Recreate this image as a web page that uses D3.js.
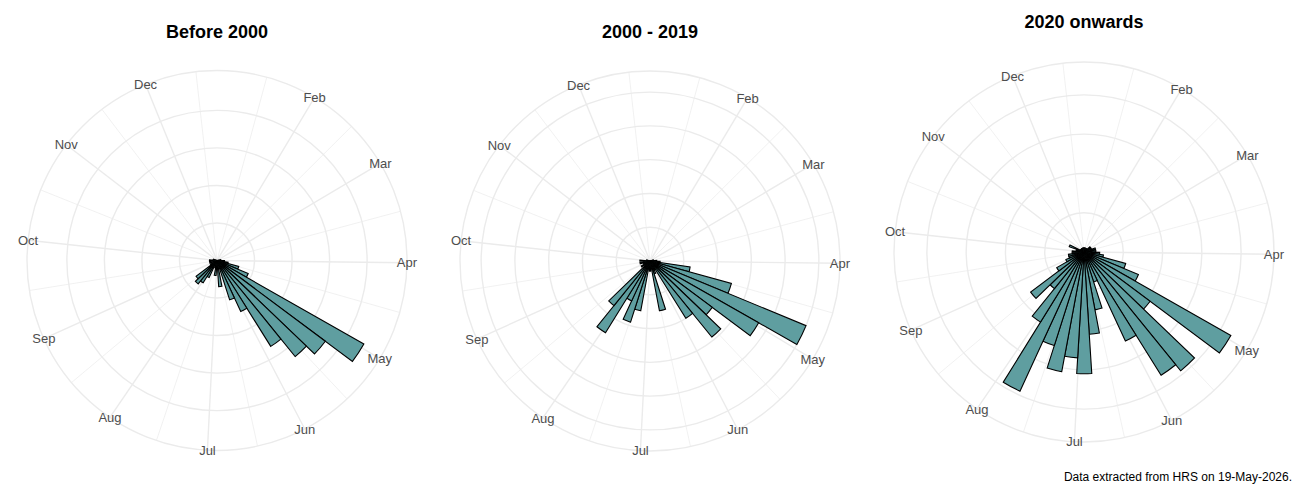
<!DOCTYPE html>
<html>
<head>
<meta charset="utf-8">
<script src="https://cdn.jsdelivr.net/npm/d3@7/dist/d3.min.js"></script>
<style>
  body { margin: 0; background: #ffffff; }
  text { font-family: Arial, "Liberation Sans", sans-serif; }
</style>
</head>
<body>
<svg id="chart" width="1300" height="500"></svg>
<script>
// Panel titles
var panelTitles = ["Before 2000", "2000 - 2019", "2020 onwards"];

// Weekly counts (51 bins of 7 days, starting at the turn of the year)
var countsBefore2000 = [0,0,0,0,0,0,0,0,0,0,0,
  1,1,2,3,6,9,45,36,33,27,15,11,2,7,2,4,2,1,5,7,8,7,2,1,2,1,2,2,1,1,
  0,0,0,0,0,0,0,0,0,0];
var counts2000to2019 = [0,0,0,0,0,0,0,0,0,0,
  1,1,2,3,12,25,50,37,23,29,20,3,4,15,2,3,2,15,19,13,25,17,2,3,2,2,3,2,3,1,1,
  0,0,0,0,0,0,0,0,0,0];
var counts2020on = [1,1,1,1,1,1,1,2,2,2,3,3,3,4,5,11,15,43,21,39,37,25,8,15,21,31,27,31,25,39,21,12,17,8,5,4,4,3,3,2,2,4,1,1,1,1,1,1,1,1,1];

var captionText = "Data extracted from HRS on 19-May-2026.";

var panelCounts = [countsBefore2000, counts2000to2019, counts2020on];

// theta axis: dates within one (non leap) year
var binDays = 7;
var dayMs = 24 * 3600 * 1000;
var firstBinStart = new Date(Date.UTC(2020, 11, 31, 12, 54));
var axisStart = new Date(Date.UTC(2021, 0, 1, 12, 0));
var axisEnd = new Date(axisStart.getTime() + 355.3 * dayMs);

// layout of the three polar panels
var centerX = [217, 650, 1084];
var centerY = [260.5, 261, 252];
var titleY = [38, 38, 28];
var outerR = 190;          // 0.45 in ggplot polar units
var barMaxR = outerR * 0.4 / 0.45;

var fillColor = "#5F9EA0";
var gridColor = "#EBEBEB";
var labelColor = "#4D4D4D";

var svg = d3.select("#chart");

var theta = d3.scaleUtc()
  .domain([axisStart, axisEnd])
  .range([0, 2 * Math.PI]);

var majorBreaks = d3.utcMonth.range(axisStart, axisEnd);
// minor breaks sit half way between months (also the ones just outside the labels)
var allMonths = d3.utcMonth.range(new Date(Date.UTC(2021, 0, 1)), new Date(Date.UTC(2022, 0, 2)));
var minorBreaks = [];
for (var i = 0; i < allMonths.length - 1; i++) {
  var mid = new Date((allMonths[i].getTime() + allMonths[i + 1].getTime()) / 2);
  if (mid >= axisStart && mid <= axisEnd) minorBreaks.push(mid);
}
var monthFormat = d3.utcFormat("%b");

var arc = d3.arc();

panelCounts.forEach(function (counts, p) {
  var g = svg.append("g")
    .attr("transform", "translate(" + centerX[p] + "," + centerY[p] + ")");

  var r = d3.scaleLinear()
    .domain([0, d3.max(counts)])
    .range([0, barMaxR]);

  // minor theta grid
  g.selectAll(".minor")
    .data(minorBreaks)
    .enter().append("line")
    .attr("x1", 0).attr("y1", 0)
    .attr("x2", function (d) { return outerR * Math.sin(theta(d)); })
    .attr("y2", function (d) { return -outerR * Math.cos(theta(d)); })
    .style("stroke", gridColor)
    .style("stroke-width", 0.7);

  // major theta grid
  g.selectAll(".major")
    .data(majorBreaks)
    .enter().append("line")
    .attr("x1", 0).attr("y1", 0)
    .attr("x2", function (d) { return outerR * Math.sin(theta(d)); })
    .attr("y2", function (d) { return -outerR * Math.cos(theta(d)); })
    .style("stroke", gridColor)
    .style("stroke-width", 1.4);

  // r grid circles + outer circle
  var rBreaks = r.ticks(5).filter(function (d) { return d > 0; });
  var circleR = rBreaks.map(function (d) { return r(d); });
  circleR.push(outerR);
  g.selectAll(".ring")
    .data(circleR)
    .enter().append("circle")
    .attr("r", function (d) { return d; })
    .style("fill", "none")
    .style("stroke", gridColor)
    .style("stroke-width", 1.4);

  // bars
  g.selectAll(".bar")
    .data(counts.map(function (c, k) { return { k: k, n: c }; }).filter(function (d) { return d.n > 0; }))
    .enter().append("path")
    .attr("d", function (d) {
      var s = new Date(firstBinStart.getTime() + d.k * binDays * dayMs);
      var e = new Date(firstBinStart.getTime() + (d.k + 1) * binDays * dayMs);
      return arc({ innerRadius: 0, outerRadius: r(d.n), startAngle: theta(s), endAngle: theta(e) });
    })
    .style("fill", fillColor)
    .style("stroke", "#000000")
    .style("stroke-width", 1.1);

  // month labels on the outer circle
  g.selectAll(".month")
    .data(majorBreaks)
    .enter().append("text")
    .text(function (d) { return monthFormat(d); })
    .attr("x", function (d) { return outerR * Math.sin(theta(d)); })
    .attr("y", function (d) { return -outerR * Math.cos(theta(d)); })
    .attr("dy", "0.36em")
    .attr("text-anchor", "middle")
    .style("font-size", "13px")
    .style("fill", labelColor);

  // title
  svg.append("text")
    .text(panelTitles[p])
    .attr("x", centerX[p])
    .attr("y", titleY[p])
    .attr("text-anchor", "middle")
    .style("font-size", "18px")
    .style("font-weight", "bold")
    .style("fill", "#000000");
});

// caption
svg.append("text")
  .text(captionText)
  .attr("x", 1292)
  .attr("y", 481)
  .attr("text-anchor", "end")
  .style("font-size", "12px")
  .style("fill", "#000000");
</script>
</body>
</html>
